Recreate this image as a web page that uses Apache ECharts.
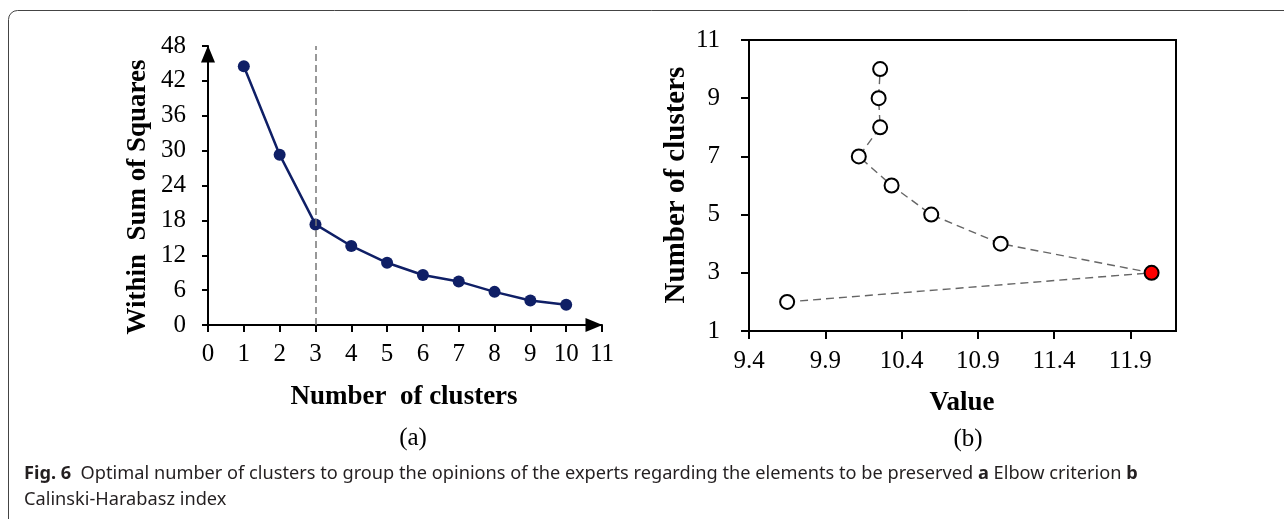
<!DOCTYPE html>
<html>
<head>
<meta charset="utf-8">
<script src="https://cdn.jsdelivr.net/npm/echarts@6/dist/echarts.min.js"></script>
<style>
  html, body { margin: 0; padding: 0; background: #fff; }
  #chart { width: 1284px; height: 519px; }
</style>
</head>
<body>
<div id="chart"></div>
<script>
// ---- Data (a) Elbow criterion ----
const elbowClusters = [1, 2, 3, 4, 5, 6, 7, 8, 9, 10];
const elbowWss = [44.5, 29.3, 17.3, 13.6, 10.7, 8.6, 7.5, 5.7, 4.2, 3.5];
const elbowChosenK = 3;

// ---- Data (b) Calinski-Harabasz index ----
const chClusters = [2, 3, 4, 5, 6, 7, 8, 9, 10];
const chValues = [9.65, 12.04, 11.05, 10.595, 10.335, 10.12, 10.26, 10.25, 10.26];
const chOptimalK = 3;

// ---- Tick labels ----
const chXTicks = [9.4, 9.9, 10.4, 10.9, 11.4, 11.9];
const chYTicks = [1, 3, 5, 7, 9, 11];

// ---- Texts ----
const titleA = 'Within  Sum of Squares';
const xNameA = 'Number  of clusters';
const labelA = '(a)';
const titleB = 'Number of clusters';
const xNameB = 'Value';
const labelB = '(b)';
const captionLine1 = '{b|Fig. 6}  Optimal number of clusters to group the opinions of the experts regarding the elements to be preserved {b|a} Elbow criterion {b|b}';
const captionLine2 = 'Calinski-Harabasz index';

const SERIF = '"Liberation Serif", "Times New Roman", serif';
const SANS = '"Noto Sans", "Open Sans", sans-serif';
const tickFont = { fontFamily: SERIF, fontSize: 25, color: '#000' };

const chart = echarts.init(document.getElementById('chart'), null, { renderer: 'canvas' });

const option = {
  backgroundColor: '#fff',
  animation: false,
  grid: [
    { left: 208, right: 1284 - 602, top: 46, bottom: 519 - 325 },
    { left: 749, right: 1284 - 1176, top: 40, bottom: 519 - 331,
      show: true, borderColor: '#000', borderWidth: 2, backgroundColor: 'transparent' }
  ],
  xAxis: [
    {
      gridIndex: 0, type: 'value', min: 0, max: 11, interval: 1,
      axisLine: { show: true, onZero: false, symbol: ['none', 'triangle'], symbolSize: [14, 17], symbolOffset: [0, -8],
        lineStyle: { color: '#000', width: 2 } },
      axisTick: { show: true, length: 7, lineStyle: { color: '#000', width: 2 } },
      axisLabel: Object.assign({ margin: 17 }, tickFont),
      splitLine: { show: false }
    },
    {
      gridIndex: 1, type: 'value', min: 9.4, max: 12.2,
      axisLine: { show: true, onZero: false, lineStyle: { color: '#000', width: 2 } },
      axisTick: { show: true, length: 8, customValues: chXTicks, lineStyle: { color: '#000', width: 2 } },
      axisLabel: Object.assign({ margin: 18, customValues: chXTicks, formatter: v => v.toFixed(1) }, tickFont),
      splitLine: { show: false }
    }
  ],
  yAxis: [
    {
      gridIndex: 0, type: 'value', min: 0, max: 48, interval: 6,
      axisLine: { show: true, onZero: false, symbol: ['none', 'triangle'], symbolSize: [14, 17], symbolOffset: [0, -8],
        lineStyle: { color: '#000', width: 2 } },
      axisTick: { show: true, length: 6, lineStyle: { color: '#000', width: 2 } },
      axisLabel: Object.assign({ margin: 22 }, tickFont),
      splitLine: { show: false }
    },
    {
      gridIndex: 1, type: 'value', min: 1, max: 11,
      axisLine: { show: true, onZero: false, lineStyle: { color: '#000', width: 2 } },
      axisTick: { show: true, length: 8, customValues: chYTicks, lineStyle: { color: '#000', width: 2 } },
      axisLabel: Object.assign({ margin: 29, customValues: chYTicks }, tickFont),
      splitLine: { show: false }
    }
  ],
  series: [
    {
      type: 'line', xAxisIndex: 0, yAxisIndex: 0,
      data: elbowClusters.map((k, i) => [k, elbowWss[i]]),
      symbol: 'circle', symbolSize: 12,
      lineStyle: { color: '#0f1f66', width: 2.5 },
      itemStyle: { color: '#0f1f66' },
      markLine: {
        silent: true, symbol: 'none', label: { show: false },
        lineStyle: { color: '#777', width: 1.5, type: [7, 4] },
        data: [{ xAxis: elbowChosenK }]
      }
    },
    {
      type: 'line', xAxisIndex: 1, yAxisIndex: 1,
      data: chClusters.map((k, i) => ({
        value: [chValues[i], k],
        itemStyle: k === chOptimalK ? { color: '#ff0000' } : undefined
      })),
      symbol: 'circle', symbolSize: 14,
      lineStyle: { color: '#666', width: 1.4, type: [8, 5] },
      itemStyle: { color: '#fff', borderColor: '#000', borderWidth: 2 }
    }
  ],
  graphic: [
    { type: 'rect', silent: true, shape: { x: 8.5, y: 10.5, width: 1320, height: 560, r: 9 },
      style: { fill: 'none', stroke: '#444', lineWidth: 1 } },
    { type: 'text', x: 138, y: 197, rotation: Math.PI / 2,
      style: { text: titleA, font: 'bold 27px ' + SERIF, fill: '#000', align: 'center', verticalAlign: 'middle' } },
    { type: 'text', x: 404, y: 397,
      style: { text: xNameA, font: 'bold 27px ' + SERIF, fill: '#000', align: 'center', verticalAlign: 'middle' } },
    { type: 'text', x: 413, y: 438,
      style: { text: labelA, font: '25px ' + SERIF, fill: '#000', align: 'center', verticalAlign: 'middle' } },
    { type: 'text', x: 677, y: 185, rotation: Math.PI / 2,
      style: { text: titleB, font: 'bold 29px ' + SERIF, fill: '#000', align: 'center', verticalAlign: 'middle' } },
    { type: 'text', x: 962, y: 403,
      style: { text: xNameB, font: 'bold 27px ' + SERIF, fill: '#000', align: 'center', verticalAlign: 'middle' } },
    { type: 'text', x: 968, y: 439,
      style: { text: labelB, font: '25px ' + SERIF, fill: '#000', align: 'center', verticalAlign: 'middle' } },
    { type: 'text', x: 24, y: 474,
      style: { text: captionLine1, font: '18.2px ' + SANS, fill: '#231f20', align: 'left', verticalAlign: 'middle',
        rich: { b: { fontWeight: 'bold', fontFamily: SANS, fontSize: 18.2, fill: '#231f20' } } } },
    { type: 'text', x: 24, y: 500,
      style: { text: captionLine2, font: '18.2px ' + SANS, fill: '#231f20', align: 'left', verticalAlign: 'middle' } }
  ]
};
chart.setOption(option);
</script>
</body>
</html>
